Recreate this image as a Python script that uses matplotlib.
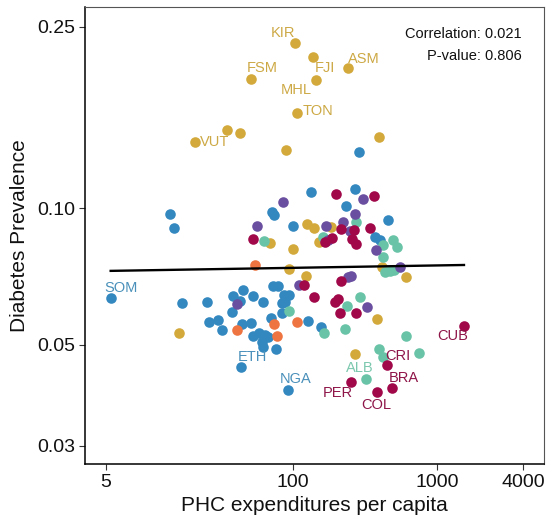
import numpy as np
import matplotlib
matplotlib.use("Agg")
import matplotlib.pyplot as plt

plt.rcParams['font.family'] = ['Liberation Sans', 'DejaVu Sans']

# ---- data (PHC expenditure per capita, diabetes prevalence) ----
pacific_x = [103.3, 138.4, 143.9, 240.1, 51.0, 106.6, 34.6, 42.8, 20.7, 398.2, 89.4,
             125.7, 141.1, 182.9, 69.7, 152.4, 100.8, 94.6, 123.1, 414.0, 610.8, 385.7, 270.0, 16.0]
pacific_y = [0.2301, 0.2144, 0.1911, 0.2028, 0.1921, 0.1620, 0.1484, 0.1464, 0.1394, 0.1430, 0.1341,
             0.0921, 0.0904, 0.0910, 0.0839, 0.0843, 0.0813, 0.0735, 0.0709, 0.0741, 0.0706, 0.0569, 0.0477, 0.0532]

africa_x = [14.06, 14.98, 132.9, 272.1, 235.5, 71.4, 73.5, 100.8, 457.9, 290.0, 370.0, 406.0,
            5.40, 16.96, 25.2, 38.3, 44.7, 43.1, 52.5, 62.3, 72.6, 78.7, 86.6, 94.3, 83.5, 88.7,
            83.9, 37.5, 26.1, 29.9, 31.9, 44.0, 50.8, 70.3, 127.8, 156.6, 52.7, 58.5, 63.4, 60.9,
            62.3, 67.0, 75.8, 43.5, 92.3]
africa_y = [0.0969, 0.0902, 0.1083, 0.1099, 0.1012, 0.0982, 0.0965, 0.0913, 0.0943, 0.1326, 0.0864, 0.0849,
            0.0633, 0.0617, 0.0620, 0.0640, 0.0659, 0.0625, 0.0641, 0.0622, 0.0675, 0.0675, 0.0644, 0.0644, 0.0617, 0.0622,
            0.0587, 0.0592, 0.0561, 0.0567, 0.0538, 0.0556, 0.0558, 0.0572, 0.0565, 0.0548, 0.0524, 0.0532, 0.0525, 0.0508,
            0.0495, 0.0521, 0.0490, 0.0448, 0.0399]

emed_x = [85.9, 306.8, 270.0, 56.6, 171.0, 221.6, 251.1, 174.3, 376.0, 559.3, 241.2, 255.2, 110.6, 41.0, 329.6]
emed_y = [0.1032, 0.1045, 0.0970, 0.0914, 0.0914, 0.0930, 0.0888, 0.0851, 0.0809, 0.0743, 0.0706, 0.0710, 0.0677, 0.0615, 0.0607]

americas_x = [199.1, 368.7, 215.7, 266.9, 345.9, 52.5, 166.9, 185.8, 259.3, 274.2, 215.7, 119.3,
              140.6, 195.9, 206.5, 212.2, 272.9, 1546, 448.5, 253.2, 382.0, 485.8]
americas_y = [0.1072, 0.1064, 0.0898, 0.0895, 0.0904, 0.0854, 0.0843, 0.0861, 0.0854, 0.0834, 0.0692, 0.0677,
              0.0638, 0.0622, 0.0630, 0.0589, 0.0587, 0.0549, 0.0451, 0.0415, 0.0394, 0.0403]

europe_x = [274.2, 62.8, 162.4, 424.6, 493.5, 531.2, 424.6, 436.3, 472.8, 504.0, 94.6, 292.4,
            236.2, 164.3, 231.8, 610.8, 758.2, 398.2, 420.5, 321.9]
europe_y = [0.0933, 0.0847, 0.0865, 0.0829, 0.0851, 0.0822, 0.0779, 0.0723, 0.0727, 0.0729, 0.0594, 0.0638,
            0.0609, 0.0530, 0.0541, 0.0523, 0.0479, 0.0491, 0.0470, 0.0421]

searo_x = [54.4, 40.8, 74.0, 77.8, 106.1]
searo_y = [0.0748, 0.0539, 0.0557, 0.0524, 0.0562]

# labelled countries: (code, group, index in group)
labels = [("KIR", "pacific", 0), ("FJI", "pacific", 1), ("MHL", "pacific", 2), ("ASM", "pacific", 3),
          ("FSM", "pacific", 4), ("TON", "pacific", 5), ("VUT", "pacific", 8),
          ("SOM", "africa", 12), ("ETH", "africa", 43), ("NGA", "africa", 44),
          ("CUB", "americas", 17), ("CRI", "americas", 18), ("PER", "americas", 19),
          ("COL", "americas", 20), ("BRA", "americas", 21), ("ALB", "europe", 19)]

correlation = 0.021
p_value = 0.806

xticks = [5, 100, 1000, 4000]
yticks = [0.03, 0.05, 0.10, 0.25]
ytick_labels = ["0.03", "0.05", "0.10", "0.25"]

# ---- styling ----
colors = {
    "pacific": "#D3A93B",
    "africa": "#3388C0",
    "emed": "#6A4FA0",
    "americas": "#A0084A",
    "europe": "#69C3A6",
    "searo": "#EE7441",
}
label_colors = {
    "pacific": "#CDA945",
    "africa": "#4A90BA",
    "americas": "#8E1548",
    "europe": "#7CC8AE",
}
groups = {
    "pacific": (pacific_x, pacific_y),
    "africa": (africa_x, africa_y),
    "emed": (emed_x, emed_y),
    "americas": (americas_x, americas_y),
    "europe": (europe_x, europe_y),
    "searo": (searo_x, searo_y),
}
# label offsets in pixels (dx right, dy down)
label_offsets = {
    "KIR": (-12, -10), "FJI": (12, 11), "MHL": (-19, 10), "ASM": (16, -9),
    "FSM": (11, -11), "TON": (21, -1.5), "VUT": (20, 0),
    "SOM": (10, -10), "ETH": (11, -9.5), "NGA": (8, -10.5),
    "CUB": (-11, 10), "CRI": (11, -9.5), "PER": (-13, 11.5),
    "COL": (0, 13), "BRA": (12, -9.5), "ALB": (-6, -10.5),
}

W, H = 548, 519
fig = plt.figure(figsize=(W / 100, H / 100), dpi=100)
ax = fig.add_axes([85 / W, 1 - 464 / H, (544 - 85) / W, (464 - 7) / H])
ax.set_xscale("log")
ax.set_yscale("log")
ax.set_xlim(3.58, 5567)
ax.set_ylim(0.02737, 0.2766)

order = ["africa", "pacific", "europe", "searo", "emed", "americas"]
for g in order:
    gx, gy = groups[g]
    ax.scatter(gx, gy, s=58, color=colors[g], linewidths=0, zorder=3)

# linear fit in log-log space over all points
all_x = np.concatenate([np.asarray(groups[g][0]) for g in groups])
all_y = np.concatenate([np.asarray(groups[g][1]) for g in groups])
lx, ly = np.log10(all_x), np.log10(all_y)
slope, intercept = np.polyfit(lx, ly, 1)
xx = np.linspace(lx.min(), lx.max(), 100)
ax.plot(10 ** xx, 10 ** (intercept + slope * xx), color="black", lw=1.7, zorder=4)

for code, g, i in labels:
    gx, gy = groups[g]
    dx, dy = label_offsets[code]
    ax.annotate(code, (gx[i], gy[i]), xytext=(dx * 0.72, -dy * 0.72), textcoords="offset points",
                ha="center", va="center", fontsize=10.5, color=label_colors.get(g, colors[g]), zorder=5)

ax.text(0.952, 0.940, f"Correlation: {correlation:.3f}", transform=ax.transAxes,
        ha="right", va="center", fontsize=10.5, color="#111111")
ax.text(0.952, 0.893, f"P-value: {p_value:.3f}", transform=ax.transAxes,
        ha="right", va="center", fontsize=10.5, color="#111111")

ax.set_xticks(xticks)
ax.set_xticklabels([str(t) for t in xticks])
ax.set_yticks(yticks)
ax.set_yticklabels(ytick_labels)
ax.minorticks_off()
ax.tick_params(axis="both", labelsize=14, length=4, width=0.8, color="#333333", pad=3, labelcolor="#111111")

for s in ["left", "bottom"]:
    ax.spines[s].set_color("black")
    ax.spines[s].set_linewidth(1.1)
for s in ["top", "right"]:
    ax.spines[s].set_color("#555555")
    ax.spines[s].set_linewidth(0.8)

ax.set_xlabel("PHC expenditures per capita", fontsize=15, color="#111111", labelpad=4)
ax.set_ylabel("Diabetes Prevalence", fontsize=15, color="#111111", labelpad=6)

fig.savefig("out.png", dpi=100)
